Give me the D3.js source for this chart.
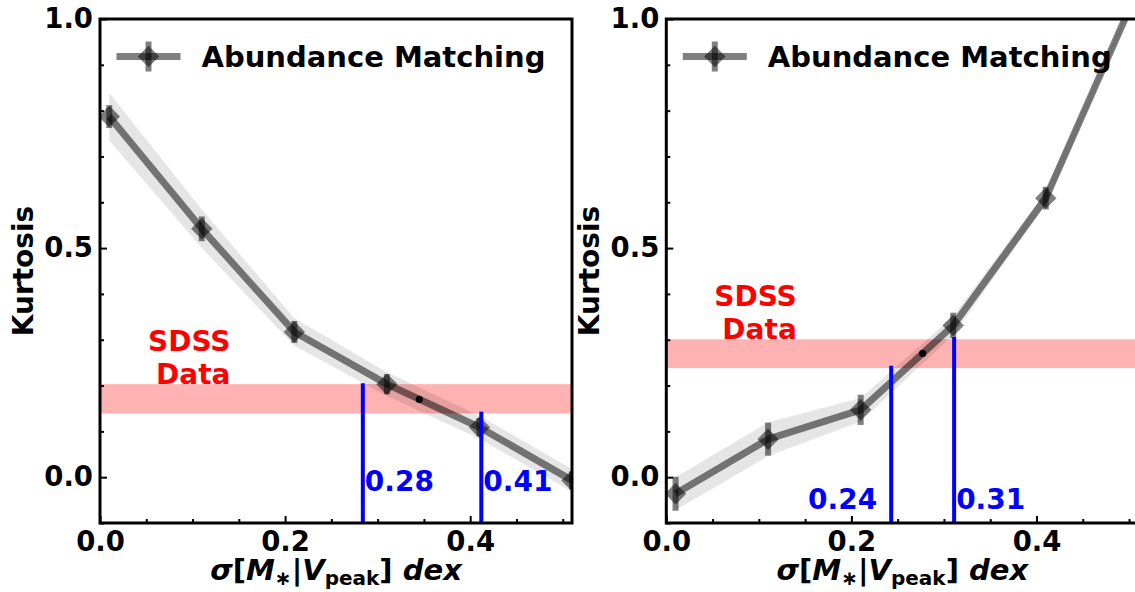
<!DOCTYPE html>
<html>
<head>
<meta charset="utf-8">
<script src="https://cdn.jsdelivr.net/npm/d3@7"></script>
<style>
  html, body { margin: 0; padding: 0; background: #fff; }
  svg { display: block; font-family: "DejaVu Sans", sans-serif; }
</style>
</head>
<body>
<svg id="chart" width="1135" height="592"></svg>
<script>
// ---- data ----
const sigmaValues = [0.01, 0.11, 0.21, 0.31, 0.41, 0.51];
const leftKurtosis = [0.787, 0.542, 0.317, 0.203, 0.109, -0.007];
const leftErr = [0.025, 0.027, 0.024, 0.022, 0.020, 0.020];
const leftBand = [0.052, 0.042, 0.030, 0.026, 0.025, 0.025];
const rightKurtosis = [-0.036, 0.083, 0.147, 0.331, 0.609, 1.066];
const rightErr = [0.037, 0.036, 0.033, 0.028, 0.025, 0.025];
const rightBand = [0.036, 0.037, 0.026, 0.020, 0.015, 0.010];
const sdssLeft = [0.139, 0.203];
const sdssRight = [0.238, 0.301];
const crossLeft = [0.345, 0.170];
const crossRight = [0.277, 0.270];
const vlinesLeft = [{x: 0.284, top: 0.205, label: "0.28"}, {x: 0.412, top: 0.143, label: "0.41"}];
const vlinesRight = [{x: 0.243, top: 0.243, label: "0.24"}, {x: 0.311, top: 0.306, label: "0.31"}];
const xMajorTicks = [0.0, 0.2, 0.4];
const xMinorTicks = [0.05, 0.1, 0.15, 0.25, 0.3, 0.35, 0.45, 0.5];
const yMajorTicks = [0.0, 0.5, 1.0];
const yMinorTicks = [-0.1, 0.1, 0.2, 0.3, 0.4, 0.6, 0.7, 0.8, 0.9];
const legendLabel = "Abundance Matching";
const yLabel = "Kurtosis";

const svg = d3.select("#chart");
const FS = 28;
const plotTop = 19, plotBottom = 523, plotW = 472;

function drawPanel(idx, x0, K, E, B, sdss, cross, vlines, labelMode) {
  const x = d3.scaleLinear().domain([0, 0.51]).range([x0, x0 + plotW]);
  const y = d3.scaleLinear().domain([-0.1, 1.0]).range([plotBottom, plotTop]);
  const g = svg.append("g");
  const clipId = "clip" + idx;
  svg.append("clipPath").attr("id", clipId).append("rect")
    .attr("x", x0).attr("y", plotTop).attr("width", plotW).attr("height", plotBottom - plotTop);
  const data = sigmaValues.map((s, i) => ({x: s, k: K[i], e: E[i], b: B[i]}));
  const pg = g.append("g").attr("clip-path", `url(#${clipId})`);

  // SDSS band
  pg.append("rect").attr("x", x(0)).attr("width", x(0.51) - x(0))
    .attr("y", y(sdss[1])).attr("height", y(sdss[0]) - y(sdss[1]))
    .attr("fill", "red").attr("fill-opacity", 0.3);

  // gray uncertainty band
  pg.append("path").datum(data)
    .attr("d", d3.area().x(d => x(d.x)).y0(d => y(d.k - d.b)).y1(d => y(d.k + d.b)))
    .attr("fill", "black").attr("fill-opacity", 0.1);

  // line
  pg.append("path").datum(data)
    .attr("d", d3.line().x(d => x(d.x)).y(d => y(d.k)))
    .attr("fill", "none").attr("stroke", "black").attr("stroke-opacity", 0.5)
    .attr("stroke-width", 7).attr("stroke-linejoin", "round");

  // error bars
  pg.selectAll(".eb").data(data).join("line")
    .attr("x1", d => x(d.x)).attr("x2", d => x(d.x))
    .attr("y1", d => y(d.k - d.e)).attr("y2", d => y(d.k + d.e))
    .attr("stroke", "black").attr("stroke-opacity", 0.5).attr("stroke-width", 6);

  // diamond markers
  const sym = d3.symbol().type(d3.symbolSquare).size(230);
  pg.selectAll(".mk").data(data).join("path")
    .attr("d", sym)
    .attr("transform", d => `translate(${x(d.x)},${y(d.k)}) rotate(45)`)
    .attr("fill", "black").attr("fill-opacity", 0.5);

  // crossing dot
  pg.append("circle").attr("cx", x(cross[0])).attr("cy", y(cross[1])).attr("r", 3.6).attr("fill", "black");

  // vertical blue lines
  pg.selectAll(".vl").data(vlines).join("line")
    .attr("x1", d => x(d.x)).attr("x2", d => x(d.x))
    .attr("y1", y(-0.1)).attr("y2", d => y(d.top))
    .attr("stroke", "blue").attr("stroke-width", 4);

  // labels of vertical lines
  vlines.forEach((d, i) => {
    const left = labelMode === "right" && i === 0;
    g.append("text")
      .attr("x", left ? x(d.x) - 14 : x(d.x) + 2)
      .attr("y", labelMode === "right" ? y(-0.0687) : y(-0.0292))
      .attr("text-anchor", left ? "end" : "start")
      .attr("font-size", FS).attr("font-weight", "bold").attr("fill", "blue")
      .text(d.label);
  });

  // SDSS text
  const tx = x(0.141);
  g.append("text").attr("x", tx).attr("y", y(sdss[1]) - 33).attr("text-anchor", "end")
    .attr("font-size", FS).attr("font-weight", "bold").attr("fill", "red").text("SDSS");
  g.append("text").attr("x", tx).attr("y", y(sdss[1])).attr("text-anchor", "end")
    .attr("font-size", FS).attr("font-weight", "bold").attr("fill", "red").text("Data");

  // axes ticks (inward)
  const ax = g.append("g").attr("transform", `translate(0,${plotBottom})`);
  ax.call(d3.axisBottom(x).tickValues(xMajorTicks).tickFormat(d3.format(".1f"))
    .tickSizeInner(-7).tickSizeOuter(0).tickPadding(8));
  const axm = g.append("g").attr("transform", `translate(0,${plotBottom})`);
  axm.call(d3.axisBottom(x).tickValues(xMinorTicks).tickFormat("").tickSizeInner(-4).tickSizeOuter(0));
  const ay = g.append("g").attr("transform", `translate(${x0},0)`);
  ay.call(d3.axisLeft(y).tickValues(yMajorTicks).tickFormat(d3.format(".1f"))
    .tickSizeInner(-7).tickSizeOuter(0).tickPadding(7));
  const aym = g.append("g").attr("transform", `translate(${x0},0)`);
  aym.call(d3.axisLeft(y).tickValues(yMinorTicks).tickFormat("").tickSizeInner(-4).tickSizeOuter(0));
  [ax, axm, ay, aym].forEach(a => {
    a.select(".domain").remove();
    a.selectAll(".tick line").attr("stroke", "black").attr("stroke-width", 2);
    a.selectAll(".tick text").attr("font-size", 27.5).attr("font-weight", "bold")
      .attr("font-family", "DejaVu Sans").attr("fill", "black");
  });

  // frame
  g.append("rect").attr("x", x0).attr("y", plotTop).attr("width", plotW).attr("height", plotBottom - plotTop)
    .attr("fill", "none").attr("stroke", "black").attr("stroke-width", 3);

  // legend
  const ly = 56.5, lx0 = x0 + 16.5, lx1 = x0 + 80.5, lc = (lx0 + lx1) / 2;
  g.append("line").attr("x1", lx0).attr("x2", lx1).attr("y1", ly).attr("y2", ly)
    .attr("stroke", "black").attr("stroke-opacity", 0.5).attr("stroke-width", 7);
  g.append("line").attr("x1", lc).attr("x2", lc).attr("y1", ly - 15).attr("y2", ly + 15)
    .attr("stroke", "black").attr("stroke-opacity", 0.5).attr("stroke-width", 6);
  g.append("path").attr("d", sym).attr("transform", `translate(${lc},${ly}) rotate(45)`)
    .attr("fill", "black").attr("fill-opacity", 0.5);
  g.append("text").attr("x", x0 + 101.5).attr("y", 66.7)
    .attr("font-size", 29).attr("font-weight", "bold").attr("fill", "black").text(legendLabel);

  // y label
  g.append("text").attr("transform", `translate(${x0 - 67},${(plotTop + plotBottom) / 2}) rotate(-90)`)
    .attr("text-anchor", "middle").attr("font-size", FS).attr("font-weight", "bold").text(yLabel);

  // x label: σ[M∗|Vpeak] dex
  const xl = g.append("text").attr("x", x0 + plotW / 2).attr("y", 580)
    .attr("text-anchor", "middle").attr("font-size", 29).attr("font-weight", "bold");
  xl.append("tspan").attr("font-style", "italic").text("σ");
  xl.append("tspan").text("[");
  xl.append("tspan").attr("font-style", "italic").text("M");
  xl.append("tspan").attr("font-size", 20).attr("dy", 5).text("∗");
  xl.append("tspan").attr("dy", -5).text("|");
  xl.append("tspan").attr("font-style", "italic").text("V");
  xl.append("tspan").attr("font-size", 20).attr("dy", 5).text("peak");
  xl.append("tspan").attr("dy", -5).text("]");
  xl.append("tspan").attr("font-style", "italic").text(" dex");
}

drawPanel(0, 100, leftKurtosis, leftErr, leftBand, sdssLeft, crossLeft, vlinesLeft, "left");
drawPanel(1, 666.3, rightKurtosis, rightErr, rightBand, sdssRight, crossRight, vlinesRight, "right");
</script>
</body>
</html>
